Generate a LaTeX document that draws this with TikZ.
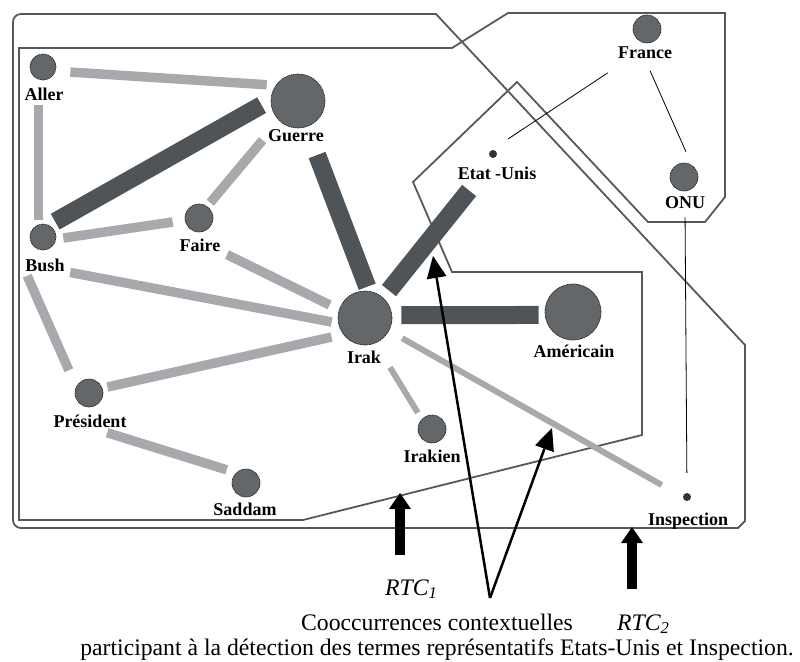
\documentclass[tikz,border=0pt]{standalone}
\usepackage{fontspec}
\setmainfont{Liberation Serif}
\usetikzlibrary{arrows.meta}
\definecolor{nodegray}{HTML}{63676A}
\definecolor{litegray}{HTML}{A7A9AC}
\definecolor{darkbar}{HTML}{4E5458}
\definecolor{zonegray}{HTML}{56595C}
\begin{document}
\begin{tikzpicture}[x=1pt,y=-1pt,
                term/.style={circle,draw=black!85,dash pattern=on 1.6pt off 0.7pt,
                line width=0.7pt,fill=nodegray,inner sep=0pt,minimum size=#1},
                dot/.style={circle,fill=black!80,inner sep=0pt,minimum size=8pt},
                word/.style={anchor=base,inner sep=0pt,
                font=\bfseries\fontsize{18}{20}\selectfont},
                lite/.style={draw=litegray,line width=9.5pt},
                litesm/.style={draw=litegray,line width=6pt},
                dark/.style={draw=darkbar,line width=18pt},
                fine/.style={draw=black,line width=0.8pt},
                zone/.style={draw=zonegray,line width=1.8pt},
                fat/.style={-{Triangle[length=16pt,width=22pt,line width=0pt]},line width=10pt},
                pointer/.style={-{Triangle[length=22pt,width=20pt,line width=0pt]},line width=2.5pt}]
                \useasboundingbox (0,0) rectangle (800,661);
                % zones
                \draw[zone] (200,14) -- (436,14) -- (745,345) -- (745,521) -- (738,528)
                    -- (100,528) [rounded corners=8pt] -- (13,528) -- (13,14) -- (200,14);
                \draw[zone] (19,48) -- (452,48) -- (508,13) -- (725,13) -- (725,197)
                    -- (705,222) -- (648,222) -- (517,82) -- (413,182) -- (452,272)
                    -- (642,272) -- (642,435) -- (303,520) -- (19,520) -- cycle;
                % terms
                \node (aller) at (43,67) [term=26pt] {};
                \node (guerre) at (298,101) [term=54pt] {};
                \node (faire) at (199,218) [term=28pt] {};
                \node (bush) at (43,237) [term=26pt] {};
                \node (irak) at (365,318) [term=54pt] {};
                \node (president) at (89,393) [term=28pt] {};
                \node (saddam) at (246,483) [term=28pt] {};
                \node (americain) at (573,312) [term=56pt] {};
                \node (irakien) at (432,429) [term=28pt] {};
                \node (france) at (647,29) [term=28pt] {};
                \node (onu) at (684,177) [term=28pt] {};
                \node (etats) at (493,154) [dot] {};
                \node (inspection) at (687,497) [dot] {};
                \node (aller-w) at (44,100) [word] {Aller};
                \node (guerre-w) at (296,141) [word] {Guerre};
                \node (faire-w) at (200,251) [word] {Faire};
                \node (bush-w) at (45,271) [word] {Bush};
                \node (irak-w) at (364,363) [word] {Irak};
                \node (president-w) at (90,427) [word] {Président};
                \node (saddam-w) at (245,515) [word] {Saddam};
                \node (americain-w) at (574,357) [word] {Américain};
                \node (irakien-w) at (432,462) [word] {Irakien};
                \node (inspection-w) at (688,525) [word] {Inspection};
                \node (etats-w) at (497,179) [word] {Etat -Unis};
                \node (france-w) at (645,59) [word] {France};
                \node (onu-w) at (685,208) [word] {ONU};
                % cooccurrences
                \draw (aller.342) edge[lite,shorten <=14.7pt,shorten >=8.9pt] (guerre.145);
                \draw (aller.250) edge[lite,shorten <=25.8pt,shorten >=4.8pt] (bush.110);
                \draw (bush.63) edge[dark,shorten <=7pt,shorten >=10.4pt] (guerre.178);
                \draw (guerre.226) edge[lite,shorten <=25.5pt,shorten >=4.6pt] (faire.55);
                \draw (bush.351) edge[lite,shorten <=7.2pt,shorten >=12.3pt] (faire.189);
                \draw (guerre.288) edge[dark,shorten <=30pt,shorten >=4.5pt] (irak.82);
                \draw (faire-w.south east) edge[lite,shorten <=7.3pt,shorten >=10.4pt] (irak.162);
                \draw (bush-w.south east) edge[lite,shorten <=5.6pt,shorten >=6.6pt] (irak.191);
                \draw (president.20) edge[lite,shorten <=5pt,shorten >=11.9pt] (irak.217);
                \draw (bush-w.south west) edge[lite,shorten <=4.8pt,shorten >=18pt] (president.154);
                \draw (president-w.south) edge[lite,shorten <=18pt,shorten >=9.8pt] (saddam.134);
                \draw (irak.48) edge[dark,shorten <=9.1pt,shorten >=43.3pt] (etats.320);
                \draw (irak.6) edge[dark,shorten <=9.2pt,shorten >=6.2pt] (americain.186);
                \draw (irak.332) edge[litesm,shorten <=15pt,shorten >=24.2pt] (inspection.179);
                \draw (irak.292) edge[litesm,shorten <=28.2pt,shorten >=7.4pt] (irakien.136);
                \draw (france-w.200) edge[fine,shorten <=24.3pt,shorten >=20.7pt] (etats.122);
                \draw (france-w.south) edge[fine,shorten <=12.5pt,shorten >=14.5pt] (onu.57);
                \draw (onu-w.south) edge[fine,shorten <=9pt,shorten >=20pt] (inspection.90);
                % captions
                \node (rtc1) at (385,595) [anchor=base west,inner sep=0pt,
                    font=\itshape\fontsize{23.7}{25}\selectfont] {RTC\textsubscript{1}};
                \node (rtc2) at (617,630) [anchor=base west,inner sep=0pt,
                    font=\itshape\fontsize{23.7}{25}\selectfont] {RTC\textsubscript{2}};
                \node (caption) at (437,655) [anchor=base,align=center,inner sep=0pt,
                    font=\fontsize{23.7}{25}\selectfont] {Cooccurrences contextuelles\\
                    participant à la détection des termes représentatifs Etats-Unis et Inspection.};
                \coordinate (foot1) at (400,555);
                \coordinate (tip1) at (400,493);
                \coordinate (foot2) at (632,589);
                \coordinate (tip2) at (632,527);
                \coordinate (fork) at (490,598);
                \coordinate (aim1) at (433,256);
                \coordinate (aim2) at (552,428);
                \draw[fat] (foot1) -- (tip1);
                \draw[fat] (foot2) -- (tip2);
                \draw[pointer] (fork) -- (aim1);
                \draw[pointer] (fork) -- (aim2);
            \end{tikzpicture}
\end{document}
